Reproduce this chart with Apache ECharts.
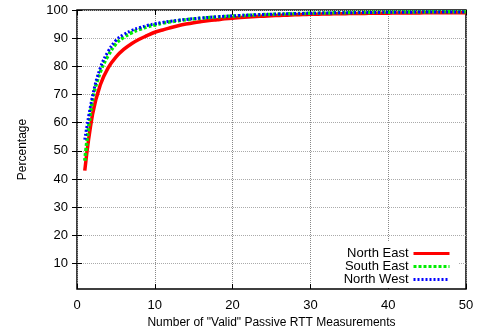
<!DOCTYPE html>
<html>
<head>
<meta charset="utf-8">
<script src="https://cdn.jsdelivr.net/npm/echarts@6/dist/echarts.min.js"></script>
<style>
html, body { margin: 0; padding: 0; background: #fff; }
#container { width: 483px; height: 335px; }
</style>
</head>
<body>
<div id="container"></div>
<script>
// x = number of valid passive RTT measurements
var xValues = [];
for (var i = 1; i <= 50; i++) xValues.push(i);

var northEast = [43, 63, 73.5, 79.5, 83.3, 86, 88, 89.6, 90.9, 92.1,
  92.9, 93.7, 94.4, 95, 95.5, 95.9, 96.25, 96.55, 96.85, 97.1,
  97.3, 97.5, 97.67, 97.82, 97.95, 98.07, 98.18, 98.28, 98.37, 98.45,
  98.52, 98.58, 98.63, 98.68, 98.72, 98.76, 98.8, 98.83, 98.86, 98.89,
  98.91, 98.93, 98.95, 98.97, 98.99, 99, 99.01, 99.02, 99.03, 99.04];
var southEast = [46.5, 68, 78, 83.8, 88, 90.3, 91.9, 93.1, 94, 94.7,
  95.3, 95.8, 96.2, 96.55, 96.85, 97.1, 97.3, 97.5, 97.7, 97.85,
  98, 98.13, 98.25, 98.36, 98.46, 98.55, 98.63, 98.7, 98.77, 98.83,
  98.89, 98.94, 98.99, 99.03, 99.07, 99.11, 99.14, 99.17, 99.2, 99.23,
  99.25, 99.27, 99.29, 99.31, 99.33, 99.35, 99.37, 99.39, 99.41, 99.42];
var northWest = [54, 69.5, 79.5, 85.3, 89.2, 91.3, 92.7, 93.7, 94.5, 95.1,
  95.6, 96, 96.35, 96.65, 96.93, 97.18, 97.4, 97.6, 97.78, 97.93,
  98.07, 98.2, 98.31, 98.41, 98.5, 98.58, 98.65, 98.72, 98.78, 98.84,
  98.89, 98.94, 98.98, 99.02, 99.05, 99.08, 99.11, 99.14, 99.16, 99.18,
  99.2, 99.22, 99.24, 99.26, 99.27, 99.28, 99.29, 99.3, 99.31, 99.32];

var yTicks = [10, 20, 30, 40, 50, 60, 70, 80, 90, 100];

function pairs(ys) {
  return ys.map(function (y, i) { return [xValues[i], y]; });
}

var font = 'Liberation Sans, Arial, sans-serif';
var myChart = echarts.init(document.getElementById('container'), null, { renderer: 'canvas' });

function legendFor(name, top) {
  return {
    data: [name], right: 32, top: top, align: 'right', orient: 'vertical',
    itemWidth: 36, itemHeight: 10, itemGap: 0, padding: 0,
    itemStyle: { opacity: 0 },
    lineStyle: { width: 3 },
    textStyle: { fontFamily: font, fontSize: 13, color: '#000' }
  };
}

var option = {
  animation: false,
  backgroundColor: '#fff',
  grid: { left: 77, right: 17, top: 10, bottom: 46, show: true, borderColor: '#000', borderWidth: 1.5 },
  legend: [legendFor('North East', 247), legendFor('South East', 260), legendFor('North West', 273)],
  // white box behind the key, as in the original plot
  graphic: [{
    type: 'rect', z: 1, silent: true,
    shape: { x: 311, y: 241, width: 147, height: 47 },
    style: { fill: '#fff' }
  }],
  xAxis: [{
    type: 'value', min: 0, max: 50, interval: 10,
    name: 'Number of "Valid" Passive RTT Measurements', nameLocation: 'middle', nameGap: 28,
    nameTextStyle: { fontFamily: font, fontSize: 12, color: '#000' },
    axisLine: { show: false },
    axisTick: { inside: true, length: 5, lineStyle: { color: '#000' } },
    axisLabel: { fontFamily: font, fontSize: 13, color: '#000', margin: 10 },
    splitLine: { show: true, lineStyle: { color: '#888', type: 'dotted', width: 1 } }
  }, {
    type: 'value', min: 0, max: 50, interval: 10, position: 'top',
    axisLine: { show: false },
    axisTick: { inside: true, length: 5, lineStyle: { color: '#000' } },
    axisLabel: { show: false }, splitLine: { show: false }
  }],
  yAxis: [{
    type: 'value', min: 1, max: 100,
    name: 'Percentage', nameLocation: 'middle', nameGap: 48,
    nameTextStyle: { fontFamily: font, fontSize: 12, color: '#000' },
    axisLine: { show: false },
    axisTick: { inside: true, length: 5, customValues: yTicks, lineStyle: { color: '#000' } },
    axisLabel: { fontFamily: font, fontSize: 13, color: '#000', margin: 9, customValues: yTicks },
    splitLine: { show: true, lineStyle: { color: '#aaa', type: 'dotted', width: 1 } }
  }, {
    type: 'value', min: 1, max: 100, position: 'right',
    axisLine: { show: false },
    axisTick: { inside: true, length: 5, customValues: yTicks, lineStyle: { color: '#000' } },
    axisLabel: { show: false, customValues: yTicks }, splitLine: { show: false }
  }],
  series: [{
    name: 'North East', type: 'line', data: pairs(northEast), showSymbol: false, symbol: 'none',
    smooth: 0.4, color: '#ff0000',
    lineStyle: { color: '#ff0000', width: 3.5, type: 'solid' }
  }, {
    name: 'South East', type: 'line', data: pairs(southEast), showSymbol: false, symbol: 'none',
    smooth: 0.4, color: '#00ee00',
    lineStyle: { color: '#00ee00', width: 3.5, type: [3, 2] }
  }, {
    name: 'North West', type: 'line', data: pairs(northWest), showSymbol: false, symbol: 'none',
    smooth: 0.4, color: '#0000ff',
    lineStyle: { color: '#0000ff', width: 3, type: [2, 2] }
  }]
};
option && myChart.setOption(option);
</script>
</body>
</html>
